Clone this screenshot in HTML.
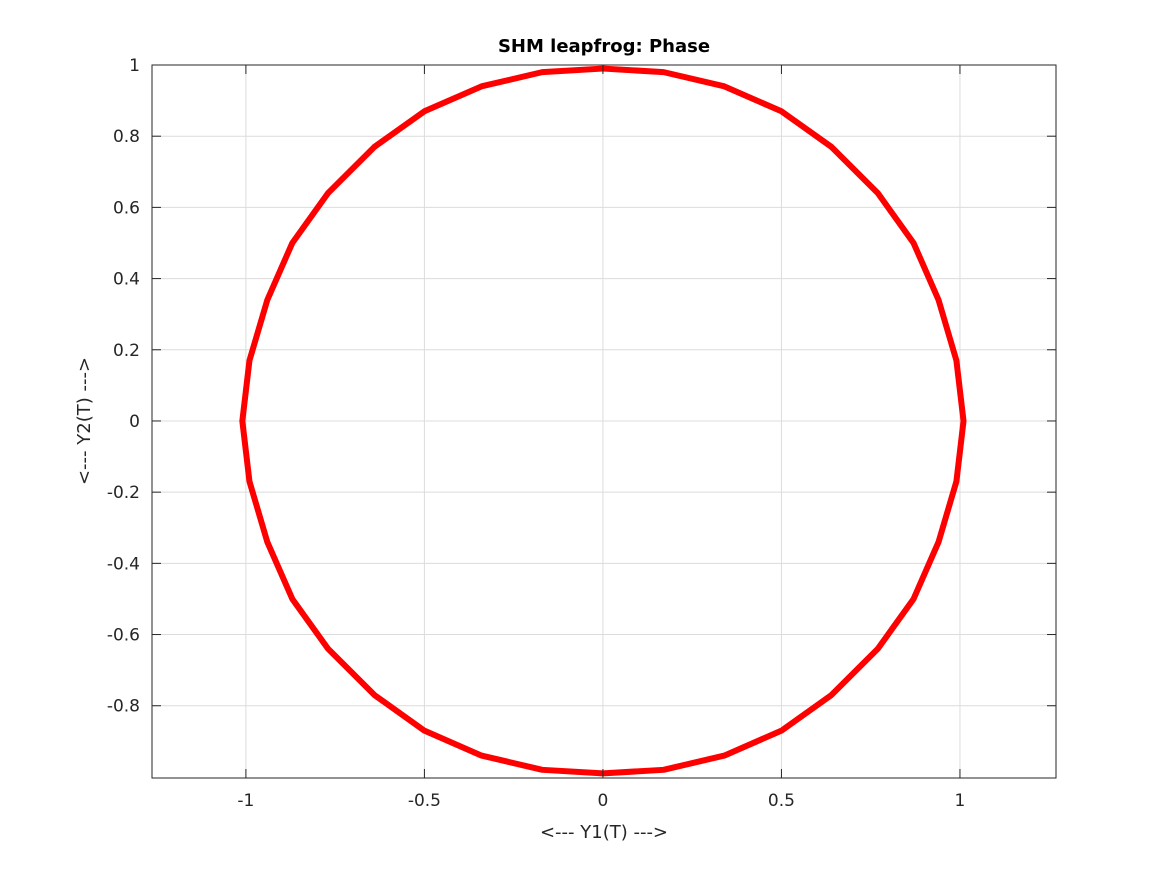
<!DOCTYPE html>
<html><head><meta charset="utf-8"><style>
body{margin:0;background:#fff;}
text{font-family:"DejaVu Sans","Liberation Sans",sans-serif;fill:#262626;}
</style></head><body>
<svg id="chart" width="1167" height="875" xmlns="http://www.w3.org/2000/svg">
<rect width="1167" height="875" fill="#fff"/>
<g id="grid"></g>
<g id="curve"></g>
<rect x="152" y="65" width="904" height="713" fill="none" stroke="#262626" stroke-width="1"/>
<g id="ticks"></g>
<text x="604" y="52" text-anchor="middle" font-size="18" font-weight="bold" style="fill:#000">SHM leapfrog: Phase</text>
<text x="604" y="838" text-anchor="middle" font-size="18">&lt;--- Y1(T) ---&gt;</text>
<text transform="translate(90,421) rotate(-90)" text-anchor="middle" font-size="18">&lt;--- Y2(T) ---&gt;</text>
</svg>
<script>
const xTicks=[-1,-0.5,0,0.5,1];
const xTickLabels=["-1","-0.5","0","0.5","1"];
const yTicks=[-0.8,-0.6,-0.4,-0.2,0,0.2,0.4,0.6,0.8,1];
const yTickLabels=["-0.8","-0.6","-0.4","-0.2","0","0.2","0.4","0.6","0.8","1"];
const y1Values=[1.01,0.99,0.94,0.87,0.77,0.64,0.5,0.34,0.17,0,-0.17,-0.34,-0.5,-0.64,-0.77,-0.87,-0.94,-0.99,-1.01,-0.99,-0.94,-0.87,-0.77,-0.64,-0.5,-0.34,-0.17,0,0.17,0.34,0.5,0.64,0.77,0.87,0.94,0.99];
const y2Values=[0,0.17,0.34,0.5,0.64,0.77,0.87,0.94,0.98,0.99,0.98,0.94,0.87,0.77,0.64,0.5,0.34,0.17,0,-0.17,-0.34,-0.5,-0.64,-0.77,-0.87,-0.94,-0.98,-0.99,-0.98,-0.94,-0.87,-0.77,-0.64,-0.5,-0.34,-0.17];
const NS="http://www.w3.org/2000/svg";
const X0=152,X1=1056,Y0=65,Y1=778,xmin=-1.263,xmax=1.269,ymin=-1.003,ymax=1;
const sx=v=>X0+(v-xmin)/(xmax-xmin)*(X1-X0);
const sy=v=>Y1-(v-ymin)/(ymax-ymin)*(Y1-Y0);
function mk(t,a,p){const e=document.createElementNS(NS,t);for(const k in a)e.setAttribute(k,a[k]);p.appendChild(e);return e;}
const grid=document.getElementById('grid'),ticks=document.getElementById('ticks'),curve=document.getElementById('curve');
xTicks.forEach((v,i)=>{const x=sx(v);
 const g=mk('line',{x1:x,x2:x,y1:Y0,y2:Y1,stroke:'#dcdcdc','stroke-width':1},grid);
 
 
 mk('line',{x1:x,x2:x,y1:Y1,y2:Y1-9,stroke:'#262626'},ticks);
 mk('line',{x1:x,x2:x,y1:Y0,y2:Y0+9,stroke:'#262626'},ticks);
 const t=mk('text',{x:x,y:Y1+28,'text-anchor':'middle','font-size':17},ticks);t.textContent=xTickLabels[i];
 
 });
yTicks.forEach((v,i)=>{const y=sy(v);
 const g=mk('line',{x1:X0,x2:X1,y1:y,y2:y,stroke:'#dcdcdc','stroke-width':1},grid);
 
 
 mk('line',{x1:X0,x2:X0+9,y1:y,y2:y,stroke:'#262626'},ticks);
 mk('line',{x1:X1,x2:X1-9,y1:y,y2:y,stroke:'#262626'},ticks);
 const t=mk('text',{x:X0-12,y:y+6,'text-anchor':'end','font-size':17},ticks);t.textContent=yTickLabels[i];
 
 });
const pts=y1Values.map((v,i)=>sx(v)+','+sy(y2Values[i])).join(' ');
const pg=mk('polygon',{points:pts,fill:'none',stroke:'#ff0000','stroke-width':6,'stroke-linejoin':'round'},curve);


</script>
</body></html>
